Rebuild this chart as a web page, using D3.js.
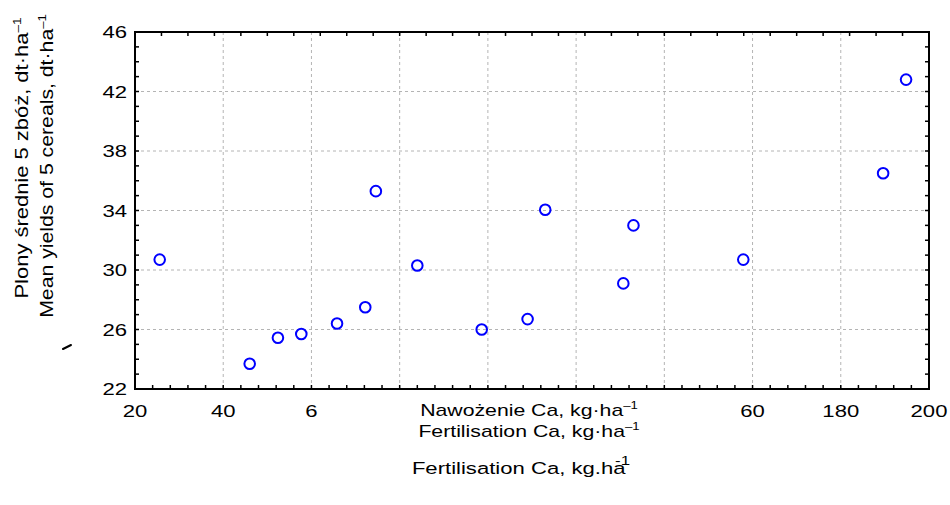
<!DOCTYPE html>
<html>
<head>
<meta charset="utf-8">
<script src="https://cdn.jsdelivr.net/npm/d3@7"></script>
<style>
  body { margin: 0; background: #fff; }
  svg text { font-family: "Liberation Sans", Arial, sans-serif; fill: #000; }
</style>
</head>
<body>
<svg id="chart" width="950" height="505"></svg>
<script>
// x position along the axis (in grid intervals) and mean yield
var calcium = [0.28, 1.30, 1.62, 1.885, 2.29, 2.61, 2.73, 3.20, 3.93, 4.45, 4.65, 5.535, 5.65, 6.895, 8.48, 8.74];
var yields  = [30.7, 23.7, 25.45, 25.7, 26.4, 27.5, 35.3, 30.3, 26.0, 26.7, 34.05, 29.1, 33.0, 30.7, 36.5, 42.8];

var xTickPos    = [0, 1, 2, 7, 8, 9];
var xTickLabels = ['20', '40', '6', '60', '180', '200'];
var yTicks      = [22, 26, 30, 34, 38, 42, 46];

var pLeft = 135, pRight = 929, pTop = 32, pBottom = 389;
var SX = 1.3;   // the reference text is drawn wide

var svg = d3.select('#chart');

var x = d3.scaleLinear().domain([0, 9]).range([pLeft, pRight]);
var y = d3.scaleLinear().domain([22, 46]).range([pBottom, pTop]);

// grid
svg.append('g')
    .selectAll('line')
    .data(d3.range(1, 9))
    .enter()
    .append('line')
    .attr('x1', function (d) { return x(d); })
    .attr('x2', function (d) { return x(d); })
    .attr('y1', pTop).attr('y2', pBottom)
    .attr('stroke', '#b4b4b4')
    .attr('stroke-dasharray', '3,3');

svg.append('g')
    .selectAll('line')
    .data(yTicks.slice(1, -1))
    .enter()
    .append('line')
    .attr('y1', function (d) { return y(d); })
    .attr('y2', function (d) { return y(d); })
    .attr('x1', pLeft).attr('x2', pRight)
    .attr('stroke', '#b4b4b4')
    .attr('stroke-dasharray', '3,3');

// small inside ticks on the four sides
var tk = svg.append('g').attr('stroke', '#000').attr('stroke-width', 1.5);

d3.range(1, 45).forEach(function (i) {
    var px = x(i * 9 / 45);
    tk.append('line').attr('x1', px).attr('x2', px).attr('y1', pBottom).attr('y2', pBottom - 4);
});
d3.range(1, 30).forEach(function (i) {
    var px = x(i * 9 / 30);
    tk.append('line').attr('x1', px).attr('x2', px).attr('y1', pTop).attr('y2', pTop + 4);
});
d3.range(23, 46).forEach(function (v) {
    tk.append('line').attr('x1', pLeft).attr('x2', pLeft + 4).attr('y1', y(v)).attr('y2', y(v));
    tk.append('line').attr('x1', pRight).attr('x2', pRight - 4).attr('y1', y(v)).attr('y2', y(v));
});

// frame
svg.append('rect')
    .attr('x', pLeft).attr('y', pTop)
    .attr('width', pRight - pLeft).attr('height', pBottom - pTop)
    .attr('fill', 'none')
    .attr('stroke', '#000')
    .attr('stroke-width', 2);

// text helper: stretched text, optional superscript
function label(tx, ty, anchor, str, sup, opts) {
    opts = opts || {};
    var size = opts.size || 17;
    var g = svg.append('g')
        .attr('transform', 'translate(' + tx + ',' + ty + ')' + (opts.rotate ? ' rotate(-90)' : '') +
              ' scale(' + (opts.sx || SX) + ',1)');
    var t = g.append('text')
        .attr('text-anchor', anchor)
        .attr('dy', opts.dy || 0)
        .style('font-size', size + 'px');
    t.append('tspan').text(str);
    if (sup) {
        t.append('tspan')
            .attr('dx', opts.supDx || 0)
            .attr('dy', opts.supDy || -7)
            .style('font-size', (opts.supSize || size * 0.62) + 'px')
            .text(sup);
    }
    return t;
}

// tick labels
yTicks.forEach(function (v) {
    label(pLeft - 8, y(v), 'end', String(v), null, { dy: '0.36em' });
});
xTickPos.forEach(function (p, i) {
    label(x(p), 417, 'middle', xTickLabels[i]);
});

// points
svg.append('g')
    .selectAll('circle')
    .data(calcium)
    .enter()
    .append('circle')
    .attr('cx', function (d) { return x(d); })
    .attr('cy', function (d, i) { return y(yields[i]); })
    .attr('r', 5.3)
    .attr('fill', 'none')
    .attr('stroke', '#0000ff')
    .attr('stroke-width', 2);

// titles
label(529, 416, 'middle', 'Nawożenie Ca, kg·ha', '–1', { sx: 1.25 });
label(529, 437, 'middle', 'Fertilisation Ca, kg·ha', '–1', { sx: 1.25 });

label(28, 158, 'middle', 'Plony średnie 5 zbóż, dt·ha', '–1', { rotate: true, size: 18, sx: 1.22 });
label(53, 166, 'middle', 'Mean yields of 5 cereals, dt·ha', '–1', { rotate: true, size: 18, sx: 1.18 });

label(521, 474, 'middle', 'Fertilisation Ca, kg.ha', '-1', { sx: 1.3, supDx: -8, supDy: -9, supSize: 13 });

// stray mark left of the axis
svg.append('path')
    .attr('d', 'M63,349 L71,345')
    .attr('stroke', '#000')
    .attr('stroke-width', 2)
    .attr('stroke-linecap', 'round');
</script>
</body>
</html>
